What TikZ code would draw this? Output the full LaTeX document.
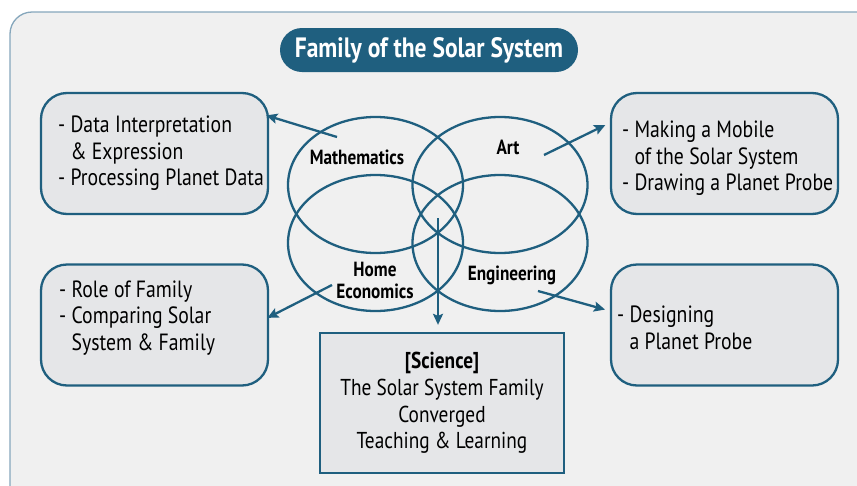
\documentclass[tikz,border=0pt]{standalone}
\usepackage{fontspec}
\setmainfont{PT Sans}[FakeStretch=0.84]
\usetikzlibrary{arrows.meta,shapes.geometric,calc}
\definecolor{dteal}{HTML}{1F5F7F}
\definecolor{panel}{HTML}{F0F0F0}
\definecolor{panelline}{HTML}{86A7BC}
\definecolor{boxfill}{HTML}{E5E6E8}
\tikzset{
  roundbox/.style={draw=dteal, line width=2.3pt, fill=boxfill, rounded corners=26pt,
    minimum width=227pt, minimum height=121pt, inner sep=0pt},
  boxtext/.style={align=left, anchor=west, inner sep=0pt,
    font=\fontsize{23.5}{26.5}\selectfont},
  ell/.style={draw=dteal, line width=2.3pt, ellipse, minimum width=175pt,
    minimum height=136pt, inner sep=0pt},
  lab/.style={font=\fontsize{20.5}{23}\selectfont\bfseries, align=center, inner sep=0pt},
  arr/.style={draw=dteal, line width=2.3pt, -{Stealth[length=11pt,width=10pt,inset=2pt]}},
}
\begin{document}
\begin{tikzpicture}[x=1pt,y=-1pt]
\useasboundingbox (0,0) rectangle (857,485);
\clip (0,0) rectangle (857,485);
\fill[white] (0,0) rectangle (857,485);
% panel
\draw[panelline, fill=panel, line width=1.3pt] (10,500) -- (10,34) arc[start angle=180,end angle=270,radius=22] -- (870,12) -- (870,500) -- cycle;
% title
\node[fill=dteal, rounded corners=22pt, minimum width=298pt, minimum height=44pt, inner sep=0pt,
  text=white, font=\fontsize{28}{30}\selectfont\bfseries] (title) at (429,50) {Family of the Solar System};
% ellipses
\node[ell] (em) at (375.5,185) {};
\node[ell] (ea) at (500,185) {};
\node[ell] (eh) at (375.5,243) {};
\node[ell] (ee) at (500,243) {};
% labels
\node[lab] (lm) at (357,157) {Mathematics};
\node[lab] (la) at (508,147) {Art};
\node[lab] (lh) at (375,280.5) {Home\\[-1pt]Economics};
\node[lab] (le) at (512,275) {Engineering};
% boxes
\node[roundbox] (tl) at (154.5,153.5) {};
\node[boxtext] (tlt) at (58,153.5) {- Data Interpretation\\\phantom{- }\& Expression\\- Processing Planet Data};
\node[roundbox] (tr) at (724.5,153.5) {};
\node[boxtext] (trt) at (622,158.5) {- Making a Mobile\\\phantom{- }of the Solar System\\- Drawing a Planet Probe};
\node[roundbox] (ml) at (154.5,325) {};
\node[boxtext] (mlt) at (59,318) {- Role of Family\\- Comparing Solar\\\phantom{- }System \& Family};
\node[roundbox] (mr) at (724.5,325) {};
\node[boxtext] (mrt) at (617,328) {- Designing\\\phantom{- }a Planet Probe};
\node[draw=dteal, line width=2.3pt, fill=boxfill, minimum width=244pt, minimum height=140pt, inner sep=0pt] (sci) at (442,403) {};
\node[align=center, inner sep=0pt, font=\fontsize{23}{26.7}\selectfont] (scit) at (442,403) {\textbf{[Science]}\\The Solar System Family\\Converged\\Teaching \& Learning};
% arrows
\coordinate (ms) at (337,137);
\coordinate (as) at (544,155);
\coordinate (hs) at (332,285);
\coordinate (es) at (538,291);
\coordinate (ds) at (438,218);
\draw[arr, shorten >=-3pt] (ms) -- (tl.18);
\draw[arr, shorten >=5pt] (as) -- (tr.165);
\draw[arr, shorten >=-2pt] (hs) -- (ml.4);
\draw[arr, shorten >=5pt] (es) -- (mr.173);
\draw[arr, shorten >=7pt] (ds) -- (ds |- sci.north);
\end{tikzpicture}
\end{document}
